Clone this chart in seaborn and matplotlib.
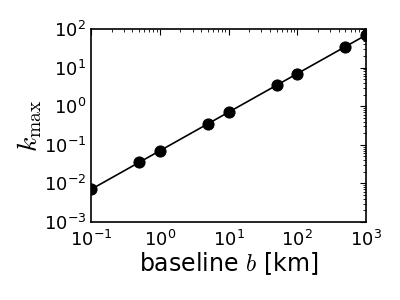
import matplotlib
matplotlib.use("Agg")
import matplotlib.pyplot as plt
import numpy as np
import pandas as pd
import seaborn as sns

# baseline values [km] and corresponding k_max
baseline = [0.1, 0.5, 1, 5, 10, 50, 100, 500, 1000]
k_max = [0.007, 0.035, 0.07, 0.35, 0.7, 3.5, 7, 35, 70]

df = pd.DataFrame({'b': baseline, 'k': k_max})

sns.set_style('white')
plt.rcParams['font.family'] = ['DejaVu Sans']
plt.rcParams['mathtext.fontset'] = 'cm'
plt.rcParams['axes.unicode_minus'] = False
plt.rcParams['text.color'] = 'black'
plt.rcParams['axes.labelcolor'] = 'black'
plt.rcParams['xtick.color'] = 'black'
plt.rcParams['ytick.color'] = 'black'

fig = plt.figure(figsize=(4, 3), dpi=100)
ax = fig.add_axes([0.2275, 0.26, 0.6875, 0.643])
sns.lineplot(data=df, x='b', y='k', ax=ax, color='black', marker='o',
             markersize=8, markeredgecolor='black', linewidth=1.2)
ax.set_xscale('log')
ax.set_yscale('log')
ax.set_xlim(0.1, 1000)
ax.set_ylim(1e-3, 1e2)
ax.tick_params(which='both', top=True, right=True, labelsize=13,
               direction='in', color='black', labelcolor='black')
ax.tick_params(which='major', length=4)
ax.tick_params(which='minor', length=2)
ax.tick_params(axis='x', pad=6)
for s in ax.spines.values():
    s.set_color('black')
    s.set_linewidth(1.2)
ax.set_xlabel(r'baseline $b$ [km]', fontsize=17, labelpad=0)
ax.set_ylabel(r'$k_{\rm max}$', fontsize=20, labelpad=0)
fig.savefig('out.png', dpi=100)
